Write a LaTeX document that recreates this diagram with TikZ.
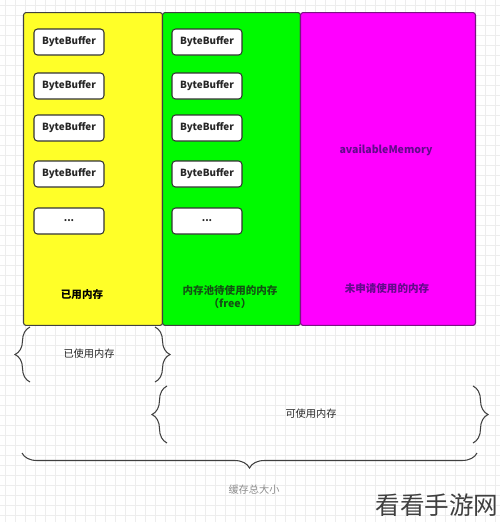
\documentclass[tikz,border=0pt]{standalone}
\usepackage{fontspec}
\setmainfont{Noto Sans CJK SC}
\usetikzlibrary{positioning,decorations.pathreplacing}
\definecolor{usedyellow}{RGB}{255,255,40}
\definecolor{freegreen}{RGB}{0,250,0}
\definecolor{restmagenta}{RGB}{255,0,255}
\definecolor{restborder}{RGB}{120,20,130}
\definecolor{resttext}{RGB}{100,10,140}
\definecolor{freetext}{RGB}{20,80,20}
\tikzset{
  membox/.style={draw=black!75, line width=0.6pt, rounded corners=1.5pt, anchor=north west, inner sep=0pt, minimum height=6.26cm},
  bufbox/.style={draw=black!80, fill=white, line width=0.6pt, rounded corners=2pt, minimum width=1.4cm, minimum height=0.52cm, inner sep=0pt, font=\fontsize{5.6}{7}\selectfont\bfseries, text=black!85},
  memlabel/.style={font=\fontsize{6}{7.6}\selectfont\bfseries, align=center},
  sizelabel/.style={font=\fontsize{5.8}{7}\selectfont, text=black!85},
  curly/.style={decorate, decoration={brace, amplitude=0.3cm}, line width=0.6pt, draw=black!75},
  gridline/.style={black!7, line width=0.3pt},
}
\begin{document}
\begin{tikzpicture}[x=0.02cm, y=-0.02cm]
    \useasboundingbox (0,0) rectangle (500,522);
    % background grid
    \foreach \gx in {5,15,...,495} \draw[gridline] (\gx,0) -- (\gx,522);
    \foreach \gy in {5,15,...,515} \draw[gridline] (0,\gy) -- (500,\gy);

    % memory columns
    \node[membox, fill=usedyellow, minimum width=2.78cm] (used) at (23,12) {};
    \node[membox, fill=freegreen, minimum width=2.76cm] (free) at (162,12) {};
    \node[membox, fill=restmagenta, draw=restborder, minimum width=3.5cm] (rest) at (300,12) {};

    % buffers
    \foreach \by [count=\i] in {42,86,128,174} {
        \node[bufbox] (ubuf\i) at (69,\by) {ByteBuffer};
        \node[bufbox] (fbuf\i) at (207,\by) {ByteBuffer};
    }
    \node[bufbox] (ubuf5) at (69,221) {...};
    \node[bufbox] (fbuf5) at (207,221) {...};

    \node[memlabel, text=resttext] (avail) at (386,150) {availableMemory};
    \node[memlabel] (usedtxt) at (82,295) {已用内存};
    \node[memlabel, text=freetext] (freetxt) at (230,297) {内存池待使用的内存\\（free）};
    \node[memlabel, text=resttext] (resttxt) at (387,289) {未申请使用的内存};

    % braces
    \coordinate (b1l) at (30,327);  \coordinate (b1lb) at (30,382);
    \coordinate (b1r) at (155,327); \coordinate (b1rb) at (155,382);
    \draw[curly] (b1lb) -- (b1l);
    \draw[curly] (b1r) -- (b1rb);
    \node[sizelabel] (usedsize) at (89,354) {已使用内存};

    \coordinate (b2l) at (167,386);  \coordinate (b2lb) at (167,443);
    \coordinate (b2r) at (473,386);  \coordinate (b2rb) at (473,443);
    \draw[curly] (b2lb) -- (b2l);
    \draw[curly] (b2r) -- (b2rb);
    \node[sizelabel] (availsize) at (311,414) {可使用内存};

    \coordinate (b3l) at (22,453); \coordinate (b3r) at (477,453);
    \draw[curly] (b3r) -- (b3l);
    \node[sizelabel, text=black!45] (total) at (254,490) {缓存总大小};

    \node[font=\fontsize{14}{16}\selectfont, text=black!75, inner sep=0pt] (mark) at (437,505) {看看手游网};
\end{tikzpicture}
\end{document}
